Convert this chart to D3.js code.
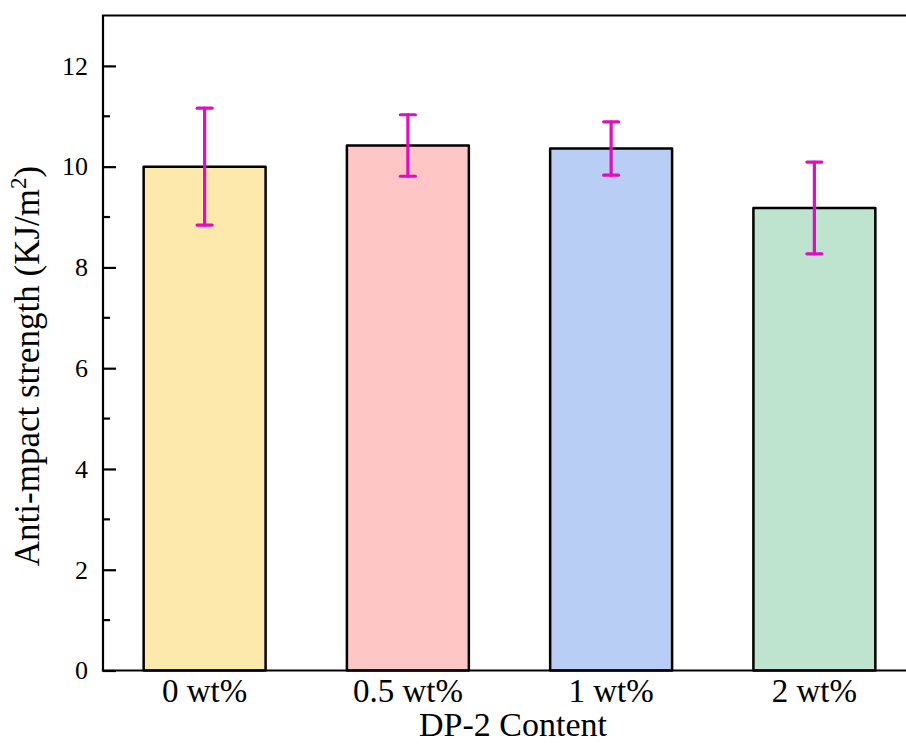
<!DOCTYPE html>
<html>
<head>
<meta charset="utf-8">
<script src="https://cdn.jsdelivr.net/npm/d3@7"></script>
<style>
  html, body { margin: 0; padding: 0; background: #fff; }
  svg { display: block; }
  text { font-family: "Liberation Serif", "Times New Roman", serif; fill: #000; }
</style>
</head>
<body>
<svg id="chart" width="906" height="744"></svg>
<script>
// Impact strength by DP-2 loading
const categories = ["0 wt%", "0.5 wt%", "1 wt%", "2 wt%"];
const strength = [10.0, 10.42, 10.36, 9.18];
const errors = [1.16, 0.61, 0.53, 0.91];
const fills = ["#fde9ab", "#fec6c4", "#b8cef4", "#bee3cf"];
const yTicks = [0, 2, 4, 6, 8, 10, 12];
const yMinorTicks = [1, 3, 5, 7, 9, 11];

const svg = d3.select("#chart");
const plotLeft = 103, plotTop = 15.5, plotBottom = 670.5, plotRight = 916;

const x = d3.scaleBand()
  .domain(categories)
  .range([plotLeft, plotRight])
  .paddingInner(0.4)
  .paddingOuter(0.2);

const y = d3.scaleLinear()
  .domain([0, 13])
  .range([plotBottom, plotTop]);

// bars
svg.append("g")
  .selectAll("rect")
  .data(categories)
  .join("rect")
  .attr("x", d => x(d))
  .attr("y", (d, i) => y(strength[i]))
  .attr("width", x.bandwidth())
  .attr("height", (d, i) => y(0) - y(strength[i]))
  .attr("fill", (d, i) => fills[i])
  .attr("stroke", "#000")
  .attr("stroke-width", 2.5)
  .attr("stroke-linejoin", "round");

// error bars
const eb = svg.append("g")
  .attr("stroke", "#e20cc0")
  .attr("stroke-width", 3.2)
  .attr("stroke-linecap", "round");
const capHalf = 7.5;
categories.forEach((c, i) => {
  const cx = x(c) + x.bandwidth() / 2;
  const hi = y(strength[i] + errors[i]);
  const lo = y(strength[i] - errors[i]);
  eb.append("line").attr("x1", cx).attr("x2", cx).attr("y1", hi).attr("y2", lo);
  eb.append("line").attr("x1", cx - capHalf).attr("x2", cx + capHalf).attr("y1", hi).attr("y2", hi);
  eb.append("line").attr("x1", cx - capHalf).attr("x2", cx + capHalf).attr("y1", lo).attr("y2", lo);
});

// frame: left axis, bottom axis, top border
const frame = svg.append("g").attr("stroke", "#000").attr("stroke-width", 2.2).attr("fill", "none");
frame.append("line").attr("x1", plotLeft).attr("x2", plotLeft).attr("y1", plotTop).attr("y2", plotBottom + 1.1);
frame.append("line").attr("x1", plotLeft - 1.1).attr("x2", 906).attr("y1", plotBottom).attr("y2", plotBottom);
frame.append("line").attr("x1", plotLeft - 1.1).attr("x2", 906).attr("y1", plotTop).attr("y2", plotTop);

// y axis with inward ticks
const yAxis = d3.axisLeft(y)
  .tickValues(yTicks)
  .tickSize(-13)
  .tickPadding(15)
  .tickFormat(d3.format("d"));
const gy = svg.append("g").attr("transform", `translate(${plotLeft},0)`).call(yAxis);
gy.select(".domain").remove();
gy.selectAll(".tick line").attr("stroke", "#000").attr("stroke-width", 2.2);
gy.selectAll(".tick text")
  .style("font-family", "'Liberation Serif', 'Times New Roman', serif")
  .style("font-size", "26px")
  .attr("fill", "#000");

// minor ticks
svg.append("g")
  .selectAll("line")
  .data(yMinorTicks)
  .join("line")
  .attr("x1", plotLeft)
  .attr("x2", plotLeft + 7)
  .attr("y1", d => y(d))
  .attr("y2", d => y(d))
  .attr("stroke", "#000")
  .attr("stroke-width", 2.2);

// x axis labels
const xAxis = d3.axisBottom(x).tickSize(0).tickPadding(8);
const gx = svg.append("g").attr("transform", `translate(0,${plotBottom})`).call(xAxis);
gx.select(".domain").remove();
gx.selectAll(".tick text")
  .style("font-family", "'Liberation Serif', 'Times New Roman', serif")
  .style("font-size", "33px")
  .attr("fill", "#000");

// axis titles
svg.append("text")
  .attr("x", 513)
  .attr("y", 736)
  .attr("text-anchor", "middle")
  .style("font-size", "34px")
  .text("DP-2 Content");

const yTitle = svg.append("text")
  .attr("transform", "translate(39,366) rotate(-90)")
  .attr("text-anchor", "middle")
  .style("font-size", "35px");
yTitle.append("tspan").text("Anti-mpact strength (KJ/m");
yTitle.append("tspan").attr("dy", -13).style("font-size", "23px").text("2");
yTitle.append("tspan").attr("dy", 13).text(")");
</script>
</body>
</html>
